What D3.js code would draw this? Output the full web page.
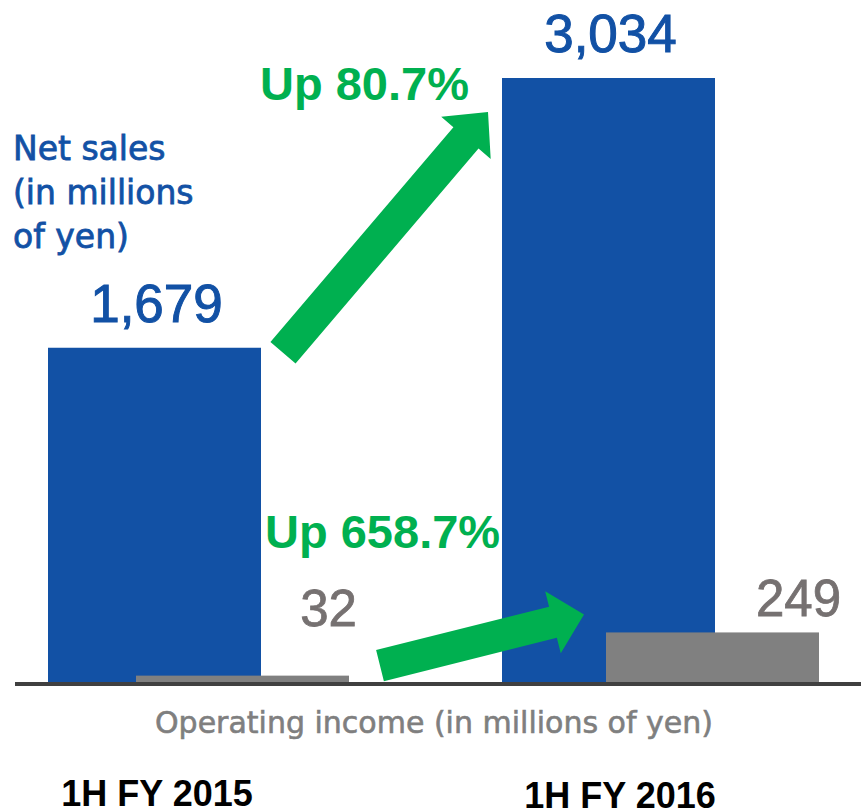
<!DOCTYPE html>
<html>
<head>
<meta charset="utf-8">
<script src="https://cdn.jsdelivr.net/npm/d3@7"></script>
<style>
  body { margin: 0; background: #fff; }
</style>
</head>
<body>
<svg id="canvas"></svg>
<script>
let categories = ["1H FY 2015", "1H FY 2016"]
let netSales = [1679, 3034]
let operatingIncome = [32, 249]
let salesGrowth = "Up 80.7%"
let incomeGrowth = "Up 658.7%"
let salesTitle = ["Net sales", "(in millions", "of yen)"]
let incomeTitle = "Operating income (in millions of yen)"

let width = 861
let height = 812
let barWidth = 213
let baseY = 682

let blue = "#1251A5"
let gray = "#808080"
let green = "#00B050"

let canvas = d3.select("#canvas")
                .attr("width", width)
                .attr("height", height)

let yScale = d3.scaleLinear()
                .domain([0, d3.max(netSales)])
                .range([baseY, 78])

// left edges of the blue and gray bars, and centres of category labels
let blueX = d3.scalePoint().domain(categories).range([48, 502])
let grayX = d3.scalePoint().domain(categories).range([136, 606])
let labelX = d3.scalePoint().domain(categories).range([157, 620])

let fmt = d3.format(",")

let sales = categories.map((c, i) => ({cat: c, value: netSales[i]}))
let income = categories.map((c, i) => ({cat: c, value: operatingIncome[i]}))

let arrow = (x0, y0, x1, y1, shaft, headW, headL) => {
    let dx = x1 - x0, dy = y1 - y0
    let len = Math.sqrt(dx * dx + dy * dy)
    let ux = dx / len, uy = dy / len
    let nx = -uy, ny = ux
    let bx = x1 - ux * headL, by = y1 - uy * headL
    let pts = [
        [x0 + nx * shaft / 2, y0 + ny * shaft / 2],
        [bx + nx * shaft / 2, by + ny * shaft / 2],
        [bx + nx * headW / 2, by + ny * headW / 2],
        [x1, y1],
        [bx - nx * headW / 2, by - ny * headW / 2],
        [bx - nx * shaft / 2, by - ny * shaft / 2],
        [x0 - nx * shaft / 2, y0 - ny * shaft / 2]
    ]
    return "M" + pts.map(p => p.join(",")).join("L") + "Z"
}

let drawBars = () => {
    canvas.selectAll(".sales")
        .data(sales)
        .enter()
        .append("rect")
        .attr("class", "sales")
        .attr("x", d => blueX(d.cat))
        .attr("y", d => yScale(d.value))
        .attr("width", barWidth)
        .attr("height", d => baseY - yScale(d.value))
        .attr("fill", blue)

    canvas.selectAll(".income")
        .data(income)
        .enter()
        .append("rect")
        .attr("class", "income")
        .attr("x", d => grayX(d.cat))
        .attr("y", d => yScale(d.value))
        .attr("width", barWidth)
        .attr("height", d => baseY - yScale(d.value))
        .attr("fill", gray)

    canvas.append("line")
        .attr("x1", 15)
        .attr("x2", width)
        .attr("y1", baseY + 2)
        .attr("y2", baseY + 2)
        .attr("stroke", "#404040")
        .attr("stroke-width", 4)
}

let drawLabels = () => {
    canvas.selectAll(".salesValue")
        .data(sales)
        .enter()
        .append("text")
        .attr("class", "salesValue")
        .attr("x", d => blueX(d.cat) + barWidth / 2 + 2)
        .attr("y", d => yScale(d.value) - 26)
        .attr("text-anchor", "middle")
        .attr("font-family", "Liberation Sans, Arial, sans-serif")
        .attr("font-size", 53)
        .attr("fill", blue)
        .attr("stroke", blue)
        .attr("stroke-width", 1)
        .text(d => fmt(d.value))

    canvas.selectAll(".incomeValue")
        .data(income)
        .enter()
        .append("text")
        .attr("class", "incomeValue")
        .attr("x", d => grayX(d.cat) + barWidth / 2 + 86)
        .attr("y", d => Math.min(yScale(d.value) - 16, 626))
        .attr("text-anchor", "middle")
        .attr("font-family", "Liberation Sans, Arial, sans-serif")
        .attr("font-size", 51)
        .attr("fill", "#767171")
        .attr("stroke", "#767171")
        .attr("stroke-width", 0.8)
        .text(d => fmt(d.value))

    canvas.selectAll(".cat")
        .data(categories)
        .enter()
        .append("text")
        .attr("class", "cat")
        .attr("x", d => labelX(d))
        .attr("y", (d, i) => 806 + i * 2)
        .attr("text-anchor", "middle")
        .attr("font-family", "Liberation Sans, Arial, sans-serif")
        .attr("font-weight", "bold")
        .attr("font-size", 36)
        .attr("fill", "#000")
        .text(d => d)

    canvas.append("text")
        .attr("x", 13)
        .attr("font-family", "DejaVu Sans, sans-serif")
        .attr("font-size", 33)
        .attr("fill", blue)
        .attr("stroke", blue)
        .attr("stroke-width", 0.8)
        .selectAll("tspan")
        .data(salesTitle)
        .enter()
        .append("tspan")
        .attr("x", 13)
        .attr("y", (d, i) => 160 + i * 44)
        .text(d => d)

    canvas.append("text")
        .attr("x", 434)
        .attr("y", 733)
        .attr("text-anchor", "middle")
        .attr("font-family", "DejaVu Sans, sans-serif")
        .attr("font-size", 30)
        .attr("fill", "#7F7F7F")
        .attr("stroke", "#7F7F7F")
        .attr("stroke-width", 0.6)
        .text(incomeTitle)
}

let drawArrows = () => {
    let s0 = yScale(netSales[0]), s1 = yScale(netSales[1])
    let x0 = blueX(categories[0]) + barWidth, x1 = blueX(categories[1])
    canvas.append("path")
        .attr("d", arrow(x0 + 22, s0 + 5, x1 - 14, s1 + 34, 33, 65, 34))
        .attr("fill", green)

    let g0 = yScale(operatingIncome[0]), g1 = yScale(operatingIncome[1])
    let gx0 = grayX(categories[0]) + barWidth, gx1 = grayX(categories[1])
    canvas.append("path")
        .attr("d", arrow(gx0 + 31, g0 - 10, gx1 - 22, g1 - 18, 32, 64, 32))
        .attr("fill", green)

    canvas.append("text")
        .attr("x", 260)
        .attr("y", 100)
        .attr("font-family", "Liberation Sans, Arial, sans-serif")
        .attr("font-weight", "bold")
        .attr("font-size", 47)
        .attr("fill", green)
        .text(salesGrowth)

    canvas.append("text")
        .attr("x", 265)
        .attr("y", 548)
        .attr("font-family", "Liberation Sans, Arial, sans-serif")
        .attr("font-weight", "bold")
        .attr("font-size", 47)
        .attr("fill", green)
        .text(incomeGrowth)
}

drawBars()
drawArrows()
drawLabels()
</script>
</body>
</html>
